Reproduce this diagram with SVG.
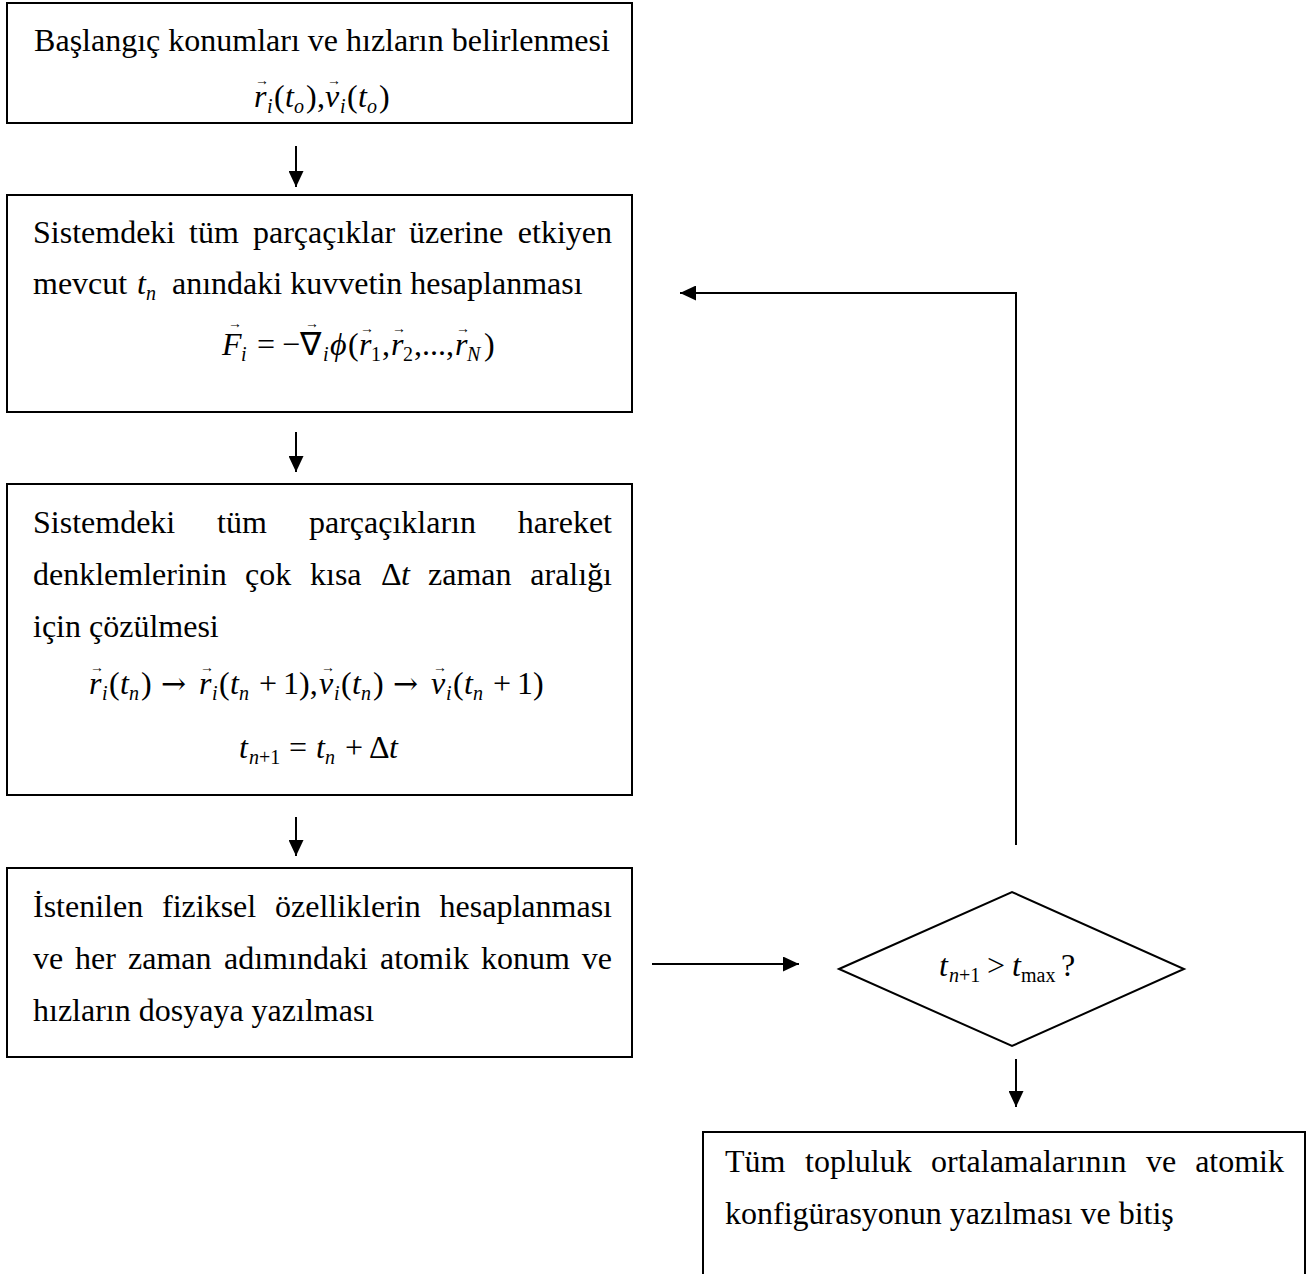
<svg xmlns="http://www.w3.org/2000/svg" width="1316" height="1274" viewBox="0 0 1316 1274">
<style>
text{font-family:"Liberation Serif","Times New Roman",serif;font-size:32px;fill:#000}
.i{font-style:italic}
.s{font-size:20px}
.v{font-size:14px;text-anchor:middle}
.ar{font-family:"DejaVu Serif","Liberation Serif",serif;font-size:30px}
.c{text-anchor:middle}
.e{text-anchor:end}
.box{fill:#fff;stroke:#000;stroke-width:2}
.ln{fill:none;stroke:#000;stroke-width:2}
</style>
<defs>
<marker id="ah" markerUnits="userSpaceOnUse" markerWidth="16" markerHeight="15" refX="16" refY="7.5" orient="auto">
<path d="M0,0 L16,7.5 L0,15 z" fill="#000"/>
</marker>
</defs>

<g id="connectors">
<path class="ln" d="M296,146 L296,187" marker-end="url(#ah)"/>
<path class="ln" d="M296,432 L296,472" marker-end="url(#ah)"/>
<path class="ln" d="M296,817 L296,856" marker-end="url(#ah)"/>
<path class="ln" d="M652,964 L799,964" marker-end="url(#ah)"/>
<path class="ln" d="M1016,845 L1016,293 L680,293" marker-end="url(#ah)"/>
<path class="ln" d="M1016,1059 L1016,1107" marker-end="url(#ah)"/>
</g>

<g id="n1">
<rect class="box" x="7" y="3" width="625" height="120"/>
<text class="c" x="322" y="51">Başlangıç konumları ve hızların belirlenmesi</text>
<g transform="translate(254,107)">
<text><tspan class="i" x="0" y="0">r</tspan><tspan class="i s" x="13" y="6">i</tspan><tspan x="20" y="0">(</tspan><tspan class="i" x="31" y="0">t</tspan><tspan class="i s" x="40" y="6">o</tspan><tspan x="52" y="0">)</tspan><tspan x="63" y="0">,</tspan><tspan class="i" x="71" y="0">v</tspan><tspan class="i s" x="86" y="6">i</tspan><tspan x="93" y="0">(</tspan><tspan class="i" x="104" y="0">t</tspan><tspan class="i s" x="113" y="6">o</tspan><tspan x="125" y="0">)</tspan></text>
<text class="v" x="8" y="-22">→</text>
<text class="v" x="80" y="-22">→</text>
</g>
</g>

<g id="n2">
<rect class="box" x="7" y="195" width="625" height="217"/>
<text y="243"><tspan x="33">Sistemdeki</tspan><tspan x="189">tüm</tspan><tspan x="253">parçaçıklar</tspan><tspan x="409">üzerine</tspan></text>
<text class="e" x="612" y="243">etkiyen</text>
<text y="294"><tspan x="33">mevcut</tspan><tspan class="i" x="137">t</tspan><tspan class="i s" x="146" y="300">n</tspan><tspan x="172" y="294">anındaki kuvvetin hesaplanması</tspan></text>
<g transform="translate(222,355)">
<text><tspan class="i" x="0" y="0">F</tspan><tspan class="i s" x="19" y="6">i</tspan><tspan x="35" y="0">=</tspan><tspan x="60" y="0">−∇</tspan><tspan class="i s" x="101" y="6">i</tspan><tspan class="i" x="108" y="0">ϕ</tspan><tspan x="126" y="0">(</tspan><tspan class="i" x="137" y="0">r</tspan><tspan class="s" x="149" y="6">1</tspan><tspan x="160" y="0">,</tspan><tspan class="i" x="169" y="0">r</tspan><tspan class="s" x="181" y="6">2</tspan><tspan x="192" y="0">,...,</tspan><tspan class="i" x="233" y="0">r</tspan><tspan class="i s" x="245" y="6">N</tspan><tspan x="262" y="0">)</tspan></text>
<text class="v" x="13" y="-27">→</text>
<text class="v" x="90" y="-27">→</text>
<text class="v" x="145" y="-22">→</text>
<text class="v" x="177" y="-22">→</text>
<text class="v" x="241" y="-22">→</text>
</g>
</g>

<g id="n3">
<rect class="box" x="7" y="484" width="625" height="311"/>
<text y="533"><tspan x="33">Sistemdeki</tspan><tspan x="217">tüm</tspan><tspan x="309">parçaçıkların</tspan></text>
<text class="e" x="612" y="533">hareket</text>
<text y="585"><tspan x="33">denklemlerinin</tspan><tspan x="245">çok</tspan><tspan x="310">kısa</tspan><tspan x="381">Δ</tspan><tspan class="i" x="401">t</tspan><tspan x="428">zaman</tspan></text>
<text class="e" x="612" y="585">aralığı</text>
<text x="33" y="637">için çözülmesi</text>
<g transform="translate(89,694)">
<text><tspan class="i" x="0" y="0">r</tspan><tspan class="i s" x="13" y="6">i</tspan><tspan x="20" y="0">(</tspan><tspan class="i" x="31" y="0">t</tspan><tspan class="i s" x="40" y="6">n</tspan><tspan x="52" y="0">)</tspan><tspan class="ar" x="72" y="0">→</tspan><tspan class="i" x="110" y="0">r</tspan><tspan class="i s" x="123" y="6">i</tspan><tspan x="130" y="0">(</tspan><tspan class="i" x="141" y="0">t</tspan><tspan class="i s" x="150" y="6">n</tspan><tspan x="170" y="0">+</tspan><tspan x="194" y="0">1</tspan><tspan x="210" y="0">),</tspan><tspan class="i" x="230" y="0">v</tspan><tspan class="i s" x="245" y="6">i</tspan><tspan x="252" y="0">(</tspan><tspan class="i" x="263" y="0">t</tspan><tspan class="i s" x="272" y="6">n</tspan><tspan x="284" y="0">)</tspan><tspan class="ar" x="304" y="0">→</tspan><tspan class="i" x="342" y="0">v</tspan><tspan class="i s" x="357" y="6">i</tspan><tspan x="364" y="0">(</tspan><tspan class="i" x="375" y="0">t</tspan><tspan class="i s" x="384" y="6">n</tspan><tspan x="404" y="0">+</tspan><tspan x="428" y="0">1</tspan><tspan x="444" y="0">)</tspan></text>
<text class="v" x="8" y="-22">→</text>
<text class="v" x="118" y="-22">→</text>
<text class="v" x="239" y="-22">→</text>
<text class="v" x="351" y="-22">→</text>
</g>
<g transform="translate(239,758)">
<text><tspan class="i" x="0" y="0">t</tspan><tspan class="i s" x="10" y="6">n</tspan><tspan class="s" x="20" y="6">+1</tspan><tspan x="50" y="0">=</tspan><tspan class="i" x="77" y="0">t</tspan><tspan class="i s" x="86" y="6">n</tspan><tspan x="106" y="0">+</tspan><tspan x="130" y="0">Δ</tspan><tspan class="i" x="150" y="0">t</tspan></text>
</g>
</g>

<g id="n4">
<rect class="box" x="7" y="868" width="625" height="189"/>
<text y="917"><tspan x="33">İstenilen</tspan><tspan x="162">fiziksel</tspan><tspan x="275">özelliklerin</tspan></text>
<text class="e" x="612" y="917">hesaplanması</text>
<text y="969"><tspan x="33">ve</tspan><tspan x="75">her</tspan><tspan x="128">zaman</tspan><tspan x="224">adımındaki</tspan><tspan x="380">atomik</tspan><tspan x="481">konum</tspan></text>
<text class="e" x="612" y="969">ve</text>
<text x="33" y="1021">hızların dosyaya yazılması</text>
</g>

<g id="n5">
<polygon class="box" points="839,969 1012,892 1184,969 1012,1046"/>
<g transform="translate(939,976)">
<text><tspan class="i" x="0" y="0">t</tspan><tspan class="i s" x="10" y="6">n</tspan><tspan class="s" x="20" y="6">+1</tspan><tspan x="48" y="0">&gt;</tspan><tspan class="i" x="73" y="0">t</tspan><tspan class="s" x="82" y="6">max</tspan><tspan x="122" y="0">?</tspan></text>
</g>
</g>

<g id="n6">
<rect class="box" x="703" y="1132" width="602" height="170"/>
<text y="1172"><tspan x="725">Tüm</tspan><tspan x="805">topluluk</tspan><tspan x="931">ortalamalarının</tspan><tspan x="1146">ve</tspan></text>
<text class="e" x="1284" y="1172">atomik</text>
<text x="725" y="1224">konfigürasyonun yazılması ve bitiş</text>
</g>
</svg>
